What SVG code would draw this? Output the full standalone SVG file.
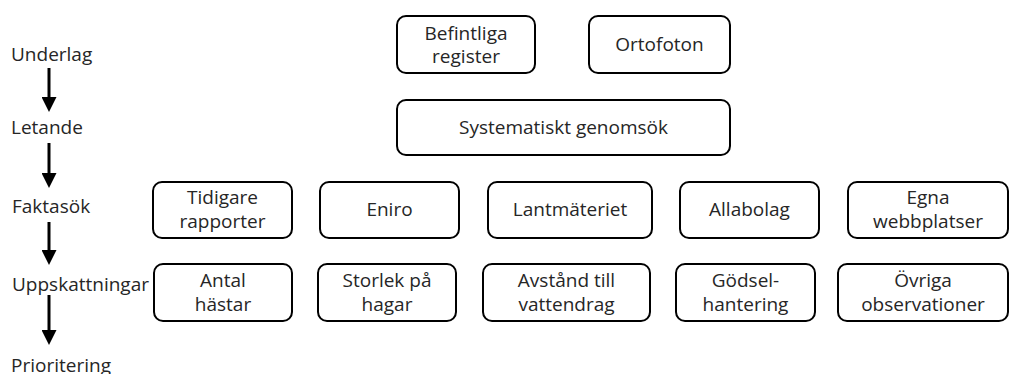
<svg xmlns="http://www.w3.org/2000/svg" width="1010" height="374" viewBox="0 0 1010 374">
<style>
.box{fill:#fff;stroke:#000;stroke-width:2}
text{font-family:"Open Sans","Liberation Sans",sans-serif;font-size:19px;fill:#262626}
.c{text-anchor:middle}
.shaft{stroke:#000;stroke-width:3}
</style>
<defs>
<marker id="ah" markerWidth="5" markerHeight="5" refX="0" refY="2.5" orient="auto" markerUnits="strokeWidth">
<path d="M0,0 L5,2.5 L0,5 Z" fill="#000"/>
</marker>
</defs>
<rect width="1010" height="374" fill="#fff"/>
<g id="stages">
<text x="11" y="61">Underlag</text>
<text x="11" y="134">Letande</text>
<text x="12" y="213">Faktasök</text>
<text x="12" y="291">Uppskattningar</text>
<text x="11" y="372">Prioritering</text>
</g>
<g id="connectors">
<line class="shaft" x1="49" y1="68" x2="49" y2="97" marker-end="url(#ah)"/>
<line class="shaft" x1="49" y1="143" x2="49" y2="173" marker-end="url(#ah)"/>
<line class="shaft" x1="49" y1="222" x2="49" y2="250" marker-end="url(#ah)"/>
<line class="shaft" x1="49" y1="295" x2="49" y2="330" marker-end="url(#ah)"/>
</g>
<g id="befintliga"><rect class="box" x="397" y="16" width="138" height="57" rx="9"/><text class="c" x="466" y="40">Befintliga</text><text class="c" x="466" y="63">register</text></g>
<g id="ortofoton"><rect class="box" x="589" y="16" width="141" height="57" rx="9"/><text class="c" x="659.5" y="51">Ortofoton</text></g>
<g id="systematiskt"><rect class="box" x="397" y="100" width="333" height="55" rx="9"/><text class="c" x="563.5" y="134">Systematiskt genomsök</text></g>
<g id="tidigare"><rect class="box" x="153" y="182" width="139" height="56" rx="9"/><text class="c" x="222.5" y="204">Tidigare</text><text class="c" x="222.5" y="228">rapporter</text></g>
<g id="eniro"><rect class="box" x="320" y="182" width="139" height="56" rx="9"/><text class="c" x="389.5" y="216">Eniro</text></g>
<g id="lantmateriet"><rect class="box" x="488" y="182" width="164" height="56" rx="9"/><text class="c" x="570" y="216">Lantmäteriet</text></g>
<g id="allabolag"><rect class="box" x="680" y="182" width="139" height="56" rx="9"/><text class="c" x="749.5" y="216">Allabolag</text></g>
<g id="egna"><rect class="box" x="848" y="182" width="160" height="56" rx="9"/><text class="c" x="928" y="204">Egna</text><text class="c" x="928" y="228">webbplatser</text></g>
<g id="antal"><rect class="box" x="154" y="264" width="138" height="57" rx="9"/><text class="c" x="223" y="287">Antal</text><text class="c" x="223" y="311">hästar</text></g>
<g id="storlek"><rect class="box" x="318" y="264" width="138" height="57" rx="9"/><text class="c" x="387" y="287">Storlek på</text><text class="c" x="387" y="311">hagar</text></g>
<g id="avstand"><rect class="box" x="483" y="264" width="167" height="57" rx="9"/><text class="c" x="566.5" y="287">Avstånd till</text><text class="c" x="566.5" y="311">vattendrag</text></g>
<g id="godsel"><rect class="box" x="676" y="264" width="139" height="57" rx="9"/><text class="c" x="745.5" y="287">Gödsel-</text><text class="c" x="745.5" y="311">hantering</text></g>
<g id="ovriga"><rect class="box" x="838" y="264" width="170" height="57" rx="9"/><text class="c" x="923" y="287">Övriga</text><text class="c" x="923" y="311">observationer</text></g>
</svg>
